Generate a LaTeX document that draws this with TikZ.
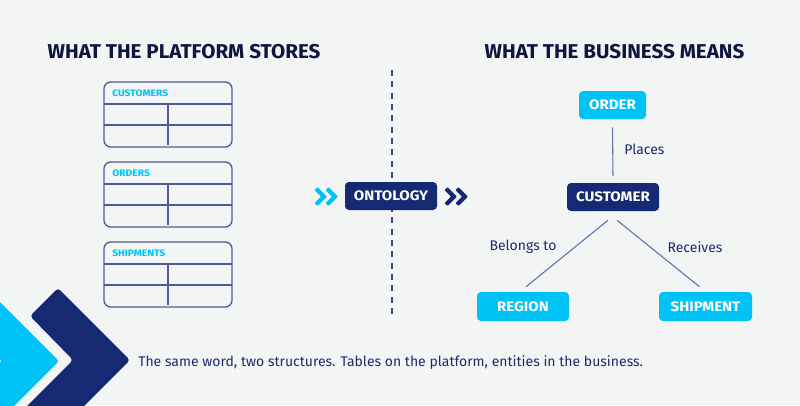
\documentclass[tikz,border=0pt]{standalone}
\usepackage{fontspec}
\setmainfont{Fira Sans}
\usetikzlibrary{calc}
\definecolor{bg}{HTML}{F3F4F4}
\definecolor{navy}{HTML}{152A72}
\definecolor{ink}{HTML}{0E1640}
\definecolor{cyanx}{HTML}{00C3F5}
\definecolor{tline}{HTML}{4C5B99}
\definecolor{cline}{HTML}{6370A8}
\definecolor{labelc}{HTML}{1D2B6B}
\newcommand{\wide}[2]{\scalebox{#1}[1]{#2}}
\tikzset{
  title/.style={font=\fontsize{15pt}{16pt}\selectfont\bfseries, text=ink, inner sep=0pt},
  thead/.style={font=\fontsize{7pt}{8pt}\selectfont\bfseries, text=cyanx, inner sep=0pt, anchor=west},
  tbl/.style={draw=tline, line width=1pt},
  ent/.style={rounded corners=3pt, font=\fontsize{10.3pt}{11pt}\selectfont\bfseries, text=white, inner sep=0pt, minimum height=21pt},
  cyanbox/.style={ent, fill=cyanx},
  navybox/.style={ent, fill=navy},
  conn/.style={draw=cline, line width=0.8pt},
  rel/.style={font=\fontsize{10.5pt}{12pt}\selectfont, text=labelc, inner sep=0pt},
}
\newcommand{\mychev}[3]{% tip x, tip y, colour
  \fill[#3, rounded corners=0.6pt] ({#1-9.5},{#2-9.5}) -- (#1,#2) -- ({#1-9.5},{#2+9.5}) -- ({#1-12.5},{#2+6.5}) -- ({#1-6},#2) -- ({#1-12.5},{#2-6.5}) -- cycle;}
\begin{document}
\begin{tikzpicture}[x=0.75pt,y=-0.75pt]
\useasboundingbox (0,0) rectangle (800,405);
\fill[bg] (0,0) rectangle (800,405);
\begin{scope}
\clip (0,0) rectangle (800,405);
% big chevrons bottom-left
\fill[cyanx, rounded corners=2pt] (-31,271) -- (59,361) -- (-31,451) -- (-88,451) -- (2,361) -- (-88,271) -- cycle;
\fill[navy, rounded corners=2.5pt] (58,288) -- (130,360) -- (70,420) -- (13,420) -- (73,360) -- (30,316) -- cycle;
\end{scope}

% titles
\node[title] (tl) at (184,52) {\wide{1.03}{WHAT THE PLATFORM STORES}};
\node[title] (tr) at (614.5,52) {\wide{1.03}{WHAT THE BUSINESS MEANS}};

% tables
\foreach \top/\name [count=\i] in {82/CUSTOMERS, 162/ORDERS, 242/SHIPMENTS}{
  \draw[tbl, rounded corners=5pt] (104,\top) rectangle (232,{\top+65});
  \draw[tbl] (104,{\top+22}) -- (232,{\top+22});
  \draw[tbl] (104,{\top+43}) -- (232,{\top+43});
  \draw[tbl] (168,{\top+22}) -- (168,{\top+63});
  \node[thead] (th\i) at (112,{\top+11}) {\wide{1.1}{\name}};
}

% divider
\draw[draw=navy!85, line width=1pt, dash pattern=on 4.5pt off 4pt] (392,70) -- (392,318);

% ontology
\node[navybox, minimum width=69pt] (onto) at (391,196) {\wide{1.1}{ONTOLOGY}};
\mychev{327}{196.5}{cyanx}
\mychev{338}{196.5}{cyanx}
\mychev{457}{196.5}{navy}
\mychev{468}{196.5}{navy}

% entity graph
\node[cyanbox, minimum width=50.25pt] (order) at (612.5,105) {\wide{1.1}{ORDER}};
\node[navybox, minimum width=69pt] (customer) at (613,197) {\wide{1.1}{CUSTOMER}};
\node[cyanbox, minimum width=69pt, minimum height=21.75pt] (region) at (523,306.5) {\wide{1.1}{REGION}};
\node[cyanbox, minimum width=69.75pt, minimum height=21.75pt] (shipment) at (705.5,306.5) {\wide{1.1}{SHIPMENT}};

\draw[conn] ($(order.south)+(0,8)$) -- ($(customer.north)+(0,-7)$);
\draw[conn] ($(customer.south)+(-5,9)$) -- ($(region.north)+(3,-5)$);
\draw[conn] ($(customer.south)+(4,9)$) -- ($(shipment.north)+(-6,-5)$);

\node[rel, anchor=west] (lp) at (624,149) {Places};
\node[rel] (lb) at (523,247) {Belongs to};
\node[rel] (lr) at (695,247) {Receives};

% caption
\node[rel, anchor=west] (cap) at (138,363) {The same word, two structures. Tables on the platform, entities in the business.};
\end{tikzpicture}
\end{document}
